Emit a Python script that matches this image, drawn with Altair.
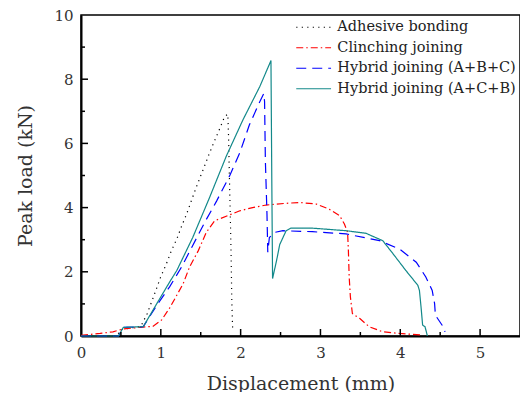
import altair as alt
import pandas as pd

# ---- data ----
adh_x = [0, 0.45, 0.5, 0.75, 0.83, 0.92, 1.0, 1.07, 1.13, 1.2, 1.26, 1.32, 1.375, 1.43, 1.49, 1.55,
         1.61, 1.675, 1.74, 1.8, 1.84, 1.85, 1.86, 1.87, 1.88, 1.89, 1.9]
adh_y = [0, 0, 0.2, 0.3, 0.7, 1.3, 1.85, 2.25, 2.64, 3.02, 3.42, 3.78, 4.16, 4.54, 4.93, 5.31,
         5.70, 6.09, 6.47, 6.84, 6.91, 6.1, 4.9, 3.8, 2.6, 1.0, 0.2]

cli_x = [0, 0.24, 0.4, 0.53, 0.74, 0.9, 1.01, 1.11, 1.2, 1.28, 1.36, 1.47, 1.57, 1.675, 1.84, 1.99,
         2.15, 2.32, 2.55, 2.74, 2.95, 3.11, 3.24, 3.30, 3.34, 3.35, 3.36, 3.375, 3.4, 3.49, 3.61,
         3.78, 3.99, 4.28]
cli_y = [0.02, 0.08, 0.13, 0.22, 0.27, 0.3, 0.5, 0.87, 1.27, 1.63, 2.15, 2.66, 3.23, 3.59, 3.75, 3.9,
         4.0, 4.08, 4.13, 4.16, 4.11, 3.95, 3.75, 3.49, 3.23, 2.66, 1.84, 1.22, 0.70, 0.55, 0.29,
         0.13, 0.08, 0.03]

abc_x = [0, 0.47, 0.53, 0.78, 0.95, 1.11, 1.26, 1.4, 1.55, 1.7, 1.86, 1.99, 2.11, 2.24, 2.29, 2.30,
         2.31, 2.33, 2.34, 2.36, 2.43, 2.53, 2.9, 3.32, 3.74, 3.99, 4.2, 4.32, 4.4, 4.43, 4.44,
         4.51, 4.55, 4.56]
abc_y = [0, 0, 0.27, 0.29, 0.96, 1.53, 2.15, 2.82, 3.54, 4.21, 4.98, 5.71, 6.58, 7.3, 7.55, 7.3,
         5.45, 3.8, 2.61, 3.07, 3.23, 3.28, 3.25, 3.18, 2.97, 2.71, 2.30, 1.84, 1.42, 1.01, 0.65,
         0.39, 0.24, 0.13]

acb_x = [0, 0.47, 0.53, 0.78, 0.95, 1.11, 1.2, 1.4, 1.61, 1.82, 2.03, 2.24, 2.38, 2.39, 2.40, 2.45,
         2.49, 2.57, 2.63, 2.9, 3.32, 3.57, 3.78, 3.91, 4.07, 4.22, 4.24, 4.26, 4.28, 4.31, 4.34]
acb_y = [0, 0, 0.27, 0.29, 1.01, 1.68, 2.04, 3.07, 4.31, 5.6, 6.74, 7.77, 8.58, 5.0, 1.79, 2.35,
         2.85, 3.28, 3.36, 3.36, 3.28, 3.2, 2.97, 2.56, 2.04, 1.58, 1.42, 0.91, 0.34, 0.29, 0.0]

series = ["Adhesive bonding", "Clinching joining", "Hybrid joining (A+B+C)", "Hybrid joining (A+C+B)"]
colors = ["#000000", "#ff0000", "#0000ff", "#13898a"]
dashes = [[1.2, 4.3], [7, 3, 1.5, 3], [10, 6], [1, 0]]

x_major = [1, 2, 3, 4, 5]
x_minor = [0.5, 1.5, 2.5, 3.5, 4.5]
y_major = [2, 4, 6, 8]
y_minor = [1, 3, 5, 7, 9]
x_labels = [0, 1, 2, 3, 4, 5]
y_labels = [0, 2, 4, 6, 8, 10]

rows = []
for name, xs, ys in zip(series, [adh_x, cli_x, abc_x, acb_x], [adh_y, cli_y, abc_y, acb_y]):
    for i, (a, b) in enumerate(zip(xs, ys)):
        rows.append({"series": name, "x": a, "y": b, "i": i})
df = pd.DataFrame(rows)

W, H = 439, 321
FONT = "DejaVu Serif"
xs_ = alt.Scale(domain=[0, 5.5], nice=False, zero=False)
ys_ = alt.Scale(domain=[0, 10], nice=False, zero=False)

x_axis = alt.Axis(
    orient="bottom", values=x_labels, ticks=False, labelPadding=9,
    labelFlush=False, labelFontSize=15, labelFont=FONT, labelColor="#333",
    domainColor="black", domainWidth=2,
    title="Displacement (mm)", titleFont=FONT, titleFontSize=19,
    titleFontWeight="normal", titleColor="#333", titlePadding=14)
y_axis = alt.Axis(
    orient="left", values=y_labels, ticks=False, labelPadding=8,
    labelFontSize=15, labelFont=FONT, labelColor="#333",
    domainColor="black", domainWidth=2,
    title="Peak load (kN)", titleFont=FONT, titleFontSize=19,
    titleFontWeight="normal", titleColor="#333", titlePadding=18)

lines = alt.Chart(df).mark_line(strokeWidth=1.2).encode(
    x=alt.X("x:Q", scale=xs_, axis=x_axis, title="Displacement (mm)"),
    y=alt.Y("y:Q", scale=ys_, axis=y_axis, title="Peak load (kN)"),
    color=alt.Color("series:N", scale=alt.Scale(domain=series, range=colors),
                    legend=alt.Legend(title=None)),
    strokeDash=alt.StrokeDash("series:N", scale=alt.Scale(domain=series, range=dashes),
                              legend=alt.Legend(title=None)),
    order="i:Q",
)


def x_ticks(values, length):
    return alt.Chart(pd.DataFrame({"x": values})).mark_rule(color="black", strokeWidth=1.5).encode(
        x=alt.X("x:Q", scale=xs_, axis=x_axis, title="Displacement (mm)"),
        y=alt.value(H), y2=alt.value(H - length),
    )


def y_ticks(values, length):
    return alt.Chart(pd.DataFrame({"y": values})).mark_rule(color="black", strokeWidth=1.5).encode(
        y=alt.Y("y:Q", scale=ys_, axis=y_axis, title="Peak load (kN)"),
        x=alt.value(0), x2=alt.value(length),
    )


chart = alt.layer(
    lines, x_ticks(x_major, 7), x_ticks(x_minor, 4), y_ticks(y_major, 7), y_ticks(y_minor, 4)
).properties(
    width=W, height=H,
    autosize=alt.AutoSizeParams(type="none"),
    padding={"left": 73, "top": 7, "right": 0, "bottom": 56},
).configure_view(
    stroke="black", strokeWidth=1.5
).configure_axis(
    grid=False
).configure_legend(
    orient="none", legendX=225.4, legendY=5, symbolType="M-2.9,0H2.9", symbolSize=144,
    symbolStrokeWidth=1.2, labelFont=FONT, labelFontSize=14.5, labelColor="#222",
    labelOffset=16.4, rowPadding=5.5, padding=0, labelLimit=300,
)

chart.save("out.html", embed_options={"renderer": "svg", "actions": False})
